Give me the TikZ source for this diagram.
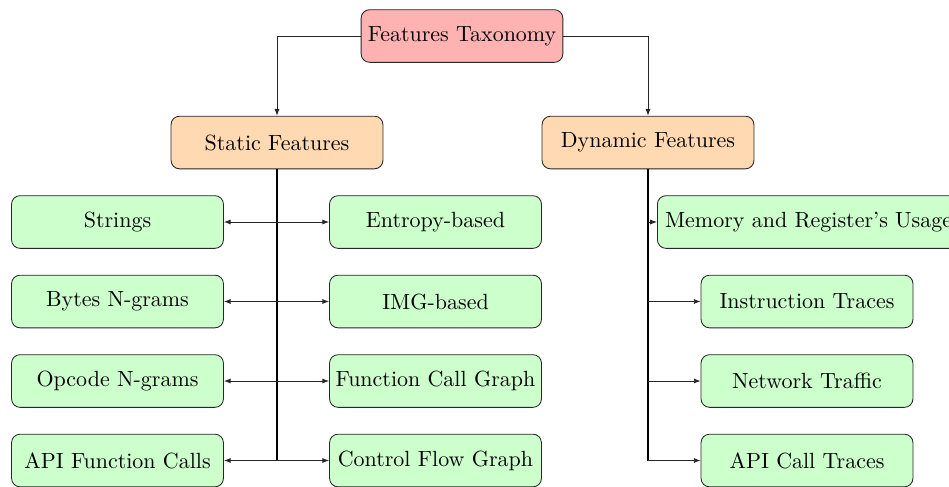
\documentclass[tikz,border=0pt]{standalone}
\usetikzlibrary{arrows.meta}
\begin{document}
\begin{tikzpicture}[x=0.471pt,y=-0.471pt,
  box/.style={draw=black!85, rounded corners=4pt, minimum height=24.8pt, align=center, inner ysep=3.5pt, inner xsep=2pt, font=\fontsize{10.35pt}{12.4pt}\selectfont},
  rootbox/.style={box, fill=red!30, minimum width=95pt},
  catbox/.style={box, fill=orange!30, minimum width=99.8pt},
  leafbox/.style={box, fill=green!20, minimum width=99.8pt},
  conn/.style={draw=black!85, -{Latex[length=3.2pt,width=2.4pt]}},
  dconn/.style={draw=black!85, {Latex[length=3.2pt,width=2.4pt]}-{Latex[length=3.2pt,width=2.4pt]}},
  trunk/.style={draw=black, line width=0.9pt}]
\useasboundingbox (0,0) rectangle (949,486);
\clip (0,0) rectangle (949,486);
\node[rootbox] (root) at (462,36) {Features Taxonomy};
\node[catbox] (static) at (277,142.5) {Static Features};
\node[catbox] (dynamic) at (648,142.5) {Dynamic Features};

\node[leafbox] (strings) at (117.5,222) {Strings};
\node[leafbox] (bytes) at (117.5,301.5) {Bytes N-grams};
\node[leafbox] (opcode) at (117.5,381) {Opcode N-grams};
\node[leafbox] (apifc) at (117.5,460.5) {API Function Calls};

\node[leafbox] (entropy) at (435.5,222) {Entropy-based};
\node[leafbox] (img) at (435.5,301.5) {IMG-based};
\node[leafbox] (fcg) at (435.5,381) {Function Call Graph};
\node[leafbox] (cfg) at (435.5,460.5) {Control Flow Graph};

\node[leafbox, anchor=west, inner xsep=3.6pt] (mem) at (657,222) {Memory and Register's Usage};
\node[leafbox] (instr) at (807,301.5) {Instruction Traces};
\node[leafbox] (net) at (807,381) {Network Traffic};
\node[leafbox] (apict) at (807,460.5) {API Call Traces};

\draw[conn] (root.west) -| (static.north);
\draw[conn] (root.east) -| (dynamic.north);

\draw[trunk] (static.south) -- (static.south |- cfg.west);
\draw[dconn] (strings.east) -- (entropy.west);
\draw[dconn] (bytes.east) -- (img.west);
\draw[dconn] (opcode.east) -- (fcg.west);
\draw[dconn] (apifc.east) -- (cfg.west);

\draw[trunk] (dynamic.south) -- (dynamic.south |- apict.west);
\draw[conn] (dynamic.south |- mem.west) -- (mem.west);
\draw[conn] (dynamic.south |- instr.west) -- (instr.west);
\draw[conn] (dynamic.south |- net.west) -- (net.west);
\draw[conn] (dynamic.south |- apict.west) -- (apict.west);
\end{tikzpicture}
\end{document}
